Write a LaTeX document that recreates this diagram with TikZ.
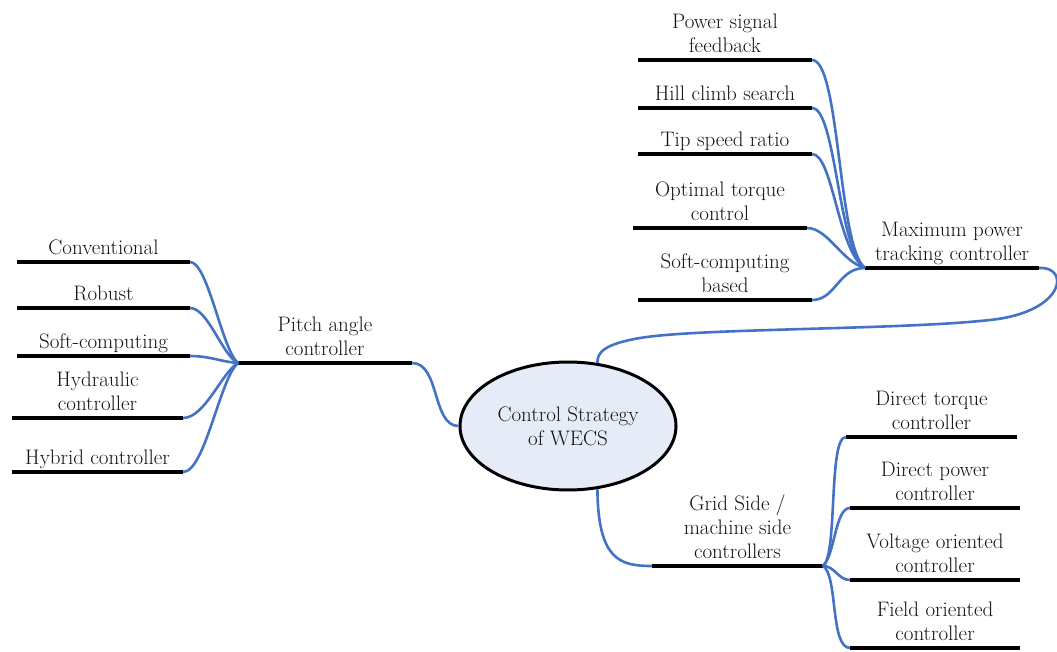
\documentclass[tikz,border=0pt]{standalone}
\usetikzlibrary{shapes.geometric}
\definecolor{conblue}{HTML}{4472C4}
\definecolor{ellfill}{HTML}{E6ECF7}
\definecolor{txt}{HTML}{141414}
\newcommand{\leafbar}[5]{%
  \coordinate (#1L) at (#2,#4);
  \coordinate (#1R) at (#3,#4);
  \draw[bar] (#1L) -- (#1R);
  \node[lab] (#1) at ({(#2+#3)/2},{#4-7}) {#5};
}
\begin{document}
\begin{tikzpicture}[x=1pt,y=-1pt,
  bar/.style={line width=4.5pt,black},
  conn/.style={conblue,line width=2.6pt},
  lab/.style={font=\fontsize{21}{24}\selectfont, text=txt, align=center,
              anchor=south, inner sep=0pt, text depth=0pt}]
\useasboundingbox (0,0) rectangle (1057,652);

% central ellipse
\node[ellipse, draw=black, line width=3pt, fill=ellfill, minimum width=216pt,
      minimum height=128pt, inner sep=0pt, text=txt,
      font=\fontsize{21}{24}\selectfont, align=center] (cs) at (568,426)
      {Control Strategy\\of WECS};

% Maximum power tracking branch
\leafbar{psf}{638}{812}{60}{Power signal\\feedback}
\leafbar{hcs}{638}{812}{108}{Hill climb search}
\leafbar{tsr}{638}{812}{154}{Tip speed ratio}
\leafbar{otc}{633}{807}{228}{Optimal torque\\control}
\leafbar{scb}{638}{812}{300}{Soft-computing\\based}
\leafbar{mppt}{865}{1039}{268}{Maximum power\\tracking controller}

\draw[conn] (psfR) .. controls (840,60) and (838,248) .. (mpptL);
\draw[conn] (hcsR) .. controls (836,108) and (838,250) .. (mpptL);
\draw[conn] (tsrR) .. controls (833,154) and (838,252) .. (mpptL);
\draw[conn] (otcR) .. controls (828,228) and (842,262) .. (mpptL);
\draw[conn] (scbR) .. controls (836,300) and (838,268) .. (mpptL);

\draw[conn] (mpptR) .. controls (1070,266) and (1066,312) .. (990,320)
  .. controls (900,330) and (700,328) .. (640,338)
  .. controls (605,344) and (597,352) .. (cs.65);

% Pitch angle branch
\leafbar{conv}{17}{190}{262}{Conventional}
\leafbar{rob}{17}{190}{308}{Robust}
\leafbar{soft}{17}{190}{356}{Soft-computing}
\leafbar{hyd}{12}{183}{418}{Hydraulic\\controller}
\leafbar{hyb}{12}{183}{472}{Hybrid controller}
\leafbar{pitch}{238}{412}{363}{Pitch angle\\controller}

\draw[conn] (convR) .. controls (208,262) and (222,350) .. (pitchL);
\draw[conn] (robR) .. controls (208,308) and (222,355) .. (pitchL);
\draw[conn] (softR) .. controls (210,356) and (222,362) .. (pitchL);
\draw[conn] (hydR) .. controls (205,418) and (222,372) .. (pitchL);
\draw[conn] (hybR) .. controls (205,472) and (220,378) .. (pitchL);

\draw[conn] (pitchR) .. controls (440,363) and (432,426) .. (cs.west);

% Grid side / machine side branch
\leafbar{grid}{652}{823}{566}{Grid Side /\\machine side\\controllers}
\leafbar{dtc}{846}{1017}{437}{Direct torque\\controller}
\leafbar{dpc}{850}{1020}{508}{Direct power\\controller}
\leafbar{voc}{850}{1020}{580}{Voltage oriented\\controller}
\leafbar{foc}{850}{1020}{648}{Field oriented\\controller}

\draw[conn] (cs.-65) .. controls (598,560) and (620,566) .. (gridL);
\draw[conn] (gridR) .. controls (838,555) and (828,437) .. (dtcL);
\draw[conn] (gridR) .. controls (835,555) and (835,508) .. (dpcL);
\draw[conn] (gridR) .. controls (835,566) and (838,580) .. (vocL);
\draw[conn] (gridR) .. controls (838,575) and (830,648) .. (focL);
\end{tikzpicture}
\end{document}
